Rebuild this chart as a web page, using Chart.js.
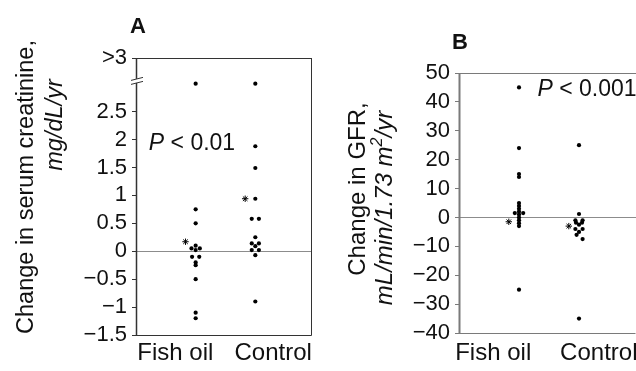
<!DOCTYPE html>
<html>
<head>
<meta charset="utf-8">
<script src="https://cdn.jsdelivr.net/npm/chart.js@4.4.0/dist/chart.umd.min.js"></script>
<style>
body { margin: 0; background: #fff; }
#wrap { position: relative; width: 636px; height: 371px; }
canvas { position: absolute; top: 0; }
</style>
</head>
<body>
<div id="wrap">
  <canvas id="chartA" width="318" height="371" style="left:0"></canvas>
  <canvas id="chartB" width="318" height="371" style="left:318px"></canvas>
</div>
<script>
// ---- data ----
var groups = ["Fish oil", "Control"];

// panel A: change in serum creatinine (mg/dL/yr); 3.0 = plotted ">3"
var fishOilA = [3.0, 0.75, 0.5, 0.1, 0.05, 0.05, 0.02, -0.1, -0.1, -0.2, -0.25, -0.5, -1.1, -1.2];
var controlA = [3.0, 1.88, 1.49, 0.94, 0.58, 0.58, 0.25, 0.14, 0.14, 0.09, 0.02, 0.02, -0.07, -0.9];
var mediansA = [0.17, 0.94];
var tickValuesA = [-1.5, -1, -0.5, 0, 0.5, 1, 1.5, 2, 2.5, 3.46];
var tickLabelsA = ["\u22121.5", "\u22121", "\u22120.5", "0", "0.5", "1", "1.5", "2", "2.5", ">3"];

// panel B: change in GFR (mL/min/1.73 m2/yr)
var fishOilB = [45, 24, 15, 14, 5, 4, 3, 2, 1.5, 1.5, 1, 0, -1, -2, -3, -25];
var controlB = [25, 1.2, -1, -1, -1.8, -1.8, -2.5, -4, -4, -5, -6, -7.5, -35];
var mediansB = [-1.5, -3];

// horizontal jitter of overlapping dots (in group units)
var jitFishA = [0, 0, 0, 0, -0.07, 0.07, 0, -0.06, 0.06, 0, 0, 0, 0, 0];
var jitCtrlA = [0, 0, 0, 0, -0.06, 0.06, 0, -0.06, 0.06, 0, -0.06, 0.06, 0, 0];
var jitFishB = [0, 0, 0, 0, 0, 0, 0, 0, -0.07, 0.07, 0, 0, 0, 0, 0, 0];
var jitCtrlB = [0, 0, -0.06, 0.06, -0.05, 0.05, 0, -0.06, 0.06, 0, -0.04, 0.06, 0];

var FONT = "'Liberation Sans', Arial, Helvetica, sans-serif";

function pts(vals, jit, gx) {
  return vals.map(function (v, i) { return { x: gx + jit[i], y: v }; });
}
function medPts(meds) {
  return meds.map(function (m, i) { return { x: i + 1 - 0.17, y: m }; });
}
function minus(v) { return v < 0 ? "\u2212" + Math.abs(v) : String(v); }

var framePlugin = {
  id: 'frame',
  afterDraw: function (chart, args, o) {
    var a = chart.chartArea, ctx = chart.ctx;
    ctx.save();
    ctx.strokeStyle = o.color;
    ctx.lineWidth = o.width;
    ctx.beginPath();
    if (o.bottom) { ctx.moveTo(a.left, a.bottom + 0.5); ctx.lineTo(a.right - 0.5, a.bottom + 0.5); }
    if (o.right) { ctx.moveTo(a.right - 0.5, a.bottom + 0.5); ctx.lineTo(a.right - 0.5, a.top + 0.5); }
    ctx.moveTo(a.right, a.top + 0.5); ctx.lineTo(a.left, a.top + 0.5);
    ctx.stroke();
    ctx.lineWidth = o.leftWidth;
    ctx.beginPath();
    ctx.moveTo(a.left + 0.5, a.top); ctx.lineTo(a.left + 0.5, a.bottom + 1);
    ctx.stroke();
    if (o.breakAt !== undefined) {
      var y = chart.scales.y.getPixelForValue(o.breakAt);
      ctx.fillStyle = '#fff';
      ctx.fillRect(a.left - 2, y - 2, 5, 4);
      ctx.lineWidth = 1;
      ctx.beginPath();
      ctx.moveTo(a.left - 5, y - 0.5); ctx.lineTo(a.left + 7, y - 3.5);
      ctx.moveTo(a.left - 5, y + 3.5); ctx.lineTo(a.left + 7, y + 0.5);
      ctx.stroke();
    }
    // texts
    (o.texts || []).forEach(function (t) {
      ctx.save();
      ctx.fillStyle = '#111';
      ctx.font = t.font;
      ctx.textAlign = t.align || 'center';
      ctx.textBaseline = 'middle';
      ctx.translate(t.x, t.y);
      if (t.rot) ctx.rotate(-Math.PI / 2);
      if (t.parts) {
        var w = 0;
        t.parts.forEach(function (p) { ctx.font = p.font; w += ctx.measureText(p.s).width; });
        var x = t.align === 'left' ? 0 : -w / 2;
        ctx.textAlign = 'left';
        t.parts.forEach(function (p) {
          ctx.font = p.font;
          ctx.fillText(p.s, x, p.dy || 0);
          x += ctx.measureText(p.s).width;
        });
      } else {
        ctx.fillText(t.s, 0, 0);
      }
      ctx.restore();
    });
    ctx.restore();
  }
};

function makeChart(id, cfg) {
  var dotStyle = { pointRadius: 2.1, pointBackgroundColor: '#000', pointBorderWidth: 0, showLine: false };
  return new Chart(document.getElementById(id), {
    type: 'scatter',
    data: {
      datasets: [
        Object.assign({ data: pts(cfg.fish, cfg.jitFish, 1) }, dotStyle),
        Object.assign({ data: pts(cfg.ctrl, cfg.jitCtrl, 2) }, dotStyle),
        { data: medPts(cfg.medians), pointStyle: 'star', pointRadius: 3.2, borderColor: '#000', borderWidth: 1, showLine: false }
      ]
    },
    options: {
      responsive: false,
      animation: false,
      events: [],
      layout: { autoPadding: false, padding: { top: cfg.top, right: cfg.right, left: 0, bottom: 0 } },
      plugins: {
        legend: { display: false },
        tooltip: { enabled: false },
        frame: cfg.frame
      },
      scales: {
        x: {
          type: 'linear', min: 0, max: 2.95,
          afterBuildTicks: function (s) { s.ticks = cfg.labelPos.map(function (v) { return { value: v }; }); },
          ticks: {
            autoSkip: false, maxRotation: 0, padding: cfg.xPad, color: '#111',
            font: { family: FONT, size: 24 },
            callback: function (v, i) { return groups[i]; }
          },
          grid: { display: false, drawTicks: false, tickLength: 0 },
          border: { display: false },
          afterFit: function (s) { s.height = cfg.xHeight; s.paddingLeft = 0; s.paddingRight = 0; }
        },
        y: cfg.y
      }
    },
    plugins: [framePlugin]
  });
}

function zeroGrid(tickColor) {
  return {
    color: function (c) { return c.tick && c.tick.value === 0 ? '#8c8c8c' : 'rgba(0,0,0,0)'; },
    tickColor: tickColor, tickLength: 4, lineWidth: 1
  };
}

makeChart('chartA', {
  fish: fishOilA, ctrl: controlA, jitFish: jitFishA, jitCtrl: jitCtrlA, medians: mediansA,
  top: 58, right: 6, xHeight: 36, xPad: 4, labelPos: [0.66, 2.3],
  frame: {
    color: '#333', width: 1, leftWidth: 1.5, breakAt: 3.05, bottom: true, right: true,
    texts: [
      { s: 'A', x: 138, y: 27, font: 'bold 22px ' + FONT },
      { parts: [{ s: 'P', font: 'italic 23px ' + FONT }, { s: ' < 0.01', font: '23px ' + FONT }], x: 192, y: 144 },
      { s: 'Change in serum creatinine,', x: 27, y: 187, rot: true, font: '23.5px ' + FONT },
      { s: 'mg/dL/yr', x: 55, y: 125, rot: true, font: 'italic 23.5px ' + FONT }
    ]
  },
  y: {
    min: -1.5, max: 3.46,
    afterBuildTicks: function (s) { s.ticks = tickValuesA.map(function (v) { return { value: v }; }); },
    ticks: {
      autoSkip: false, padding: 5, color: '#111',
      font: { family: FONT, size: 22 },
      callback: function (v, i) { return tickLabelsA[i]; }
    },
    grid: zeroGrid('#333'),
    border: { display: false },
    afterFit: function (s) { s.width = 136; s.paddingTop = 0; s.paddingBottom = 0; }
  }
});

makeChart('chartB', {
  fish: fishOilB, ctrl: controlB, jitFish: jitFishB, jitCtrl: jitCtrlB, medians: mediansB,
  top: 73, right: 0, xHeight: 38, xPad: 6, labelPos: [0.57, 2.33],
  frame: {
    color: '#7a7a7a', width: 1, leftWidth: 2, bottom: true, right: false,
    texts: [
      { s: 'B', x: 142, y: 43, font: 'bold 22px ' + FONT },
      { parts: [{ s: 'P', font: 'italic 23px ' + FONT }, { s: ' < 0.001', font: '23px ' + FONT }], x: 269, y: 90 },
      { s: 'Change in GFR,', x: 40, y: 189, rot: true, font: '24px ' + FONT },
      { parts: [
          { s: 'mL/min/1.73 m', font: 'italic 24px ' + FONT },
          { s: '2', font: 'italic 16px ' + FONT, dy: -7 },
          { s: '/yr', font: 'italic 24px ' + FONT }
        ], x: 67, y: 208, rot: true }
    ]
  },
  y: {
    min: -40, max: 50,
    ticks: {
      stepSize: 10, autoSkip: false, padding: 5, color: '#111',
      font: { family: FONT, size: 22 },
      callback: function (v) { return minus(v); }
    },
    grid: zeroGrid('#7a7a7a'),
    border: { display: false },
    afterFit: function (s) { s.width = 141; s.paddingTop = 0; s.paddingBottom = 0; }
  }
});
</script>
</body>
</html>
